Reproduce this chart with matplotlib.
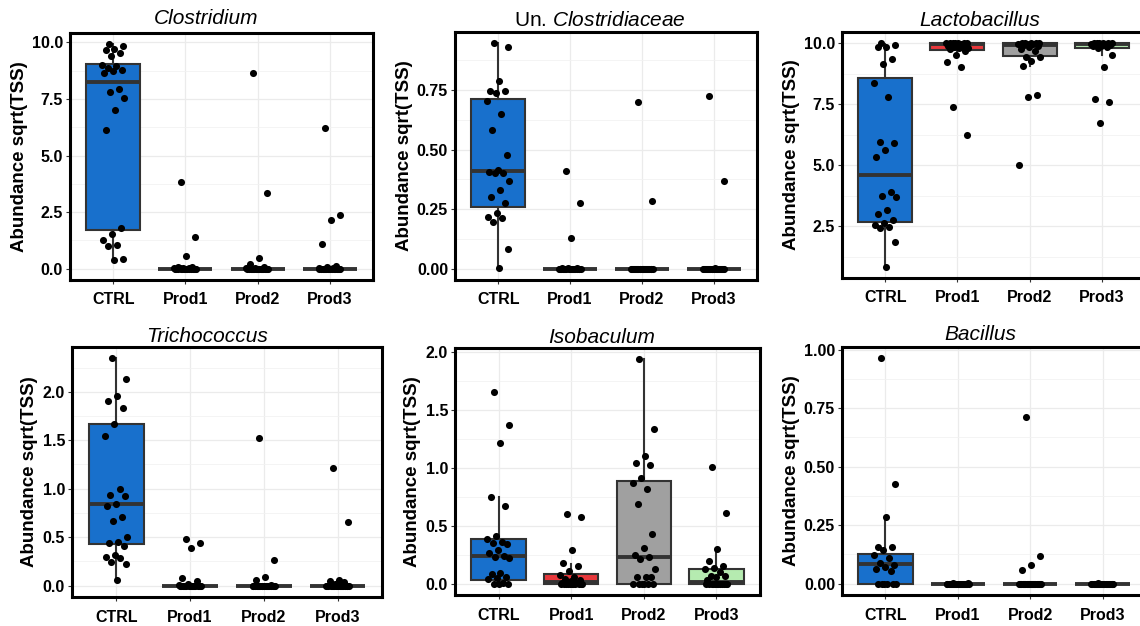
import numpy as np
import matplotlib
matplotlib.use("Agg")
import matplotlib.pyplot as plt
from matplotlib.ticker import FormatStrFormatter, FixedLocator

plt.rcParams["font.family"] = ["Liberation Sans", "DejaVu Sans"]
plt.rcParams["mathtext.fontset"] = "custom"
plt.rcParams["mathtext.rm"] = "Liberation Sans"
plt.rcParams["mathtext.it"] = "Liberation Sans:italic"

groups = ["CTRL", "Prod1", "Prod2", "Prod3"]
box_colors = ["#1870CC", "#E8383C", "#A0A0A0", "#B5EBB0"]

### Clostridium
clos_ctrl = [9.92, 9.85, 9.72, 9.65, 9.55, 9.42, 9.0, 8.95, 8.88, 8.8, 8.72, 8.65,
             7.95, 7.8, 7.55, 7.0, 6.15, 1.82, 1.52, 1.25, 1.07, 1.02, 0.45, 0.39]
clos_p1 = [3.85, 1.4, 0.55, 0.08, 0.06, 0.05, 0.04, 0.03, 0.02, 0.01] + [0.0] * 14
clos_p2 = [8.65, 3.35, 0.48, 0.2, 0.06, 0.04, 0.02] + [0.0] * 17
clos_p3 = [6.2, 2.38, 2.15, 1.1, 0.12, 0.08, 0.05, 0.03] + [0.0] * 16
# q1, median, q3, whisker low, whisker high
clos_box = [(1.72, 8.27, 9.06, 0.39, 9.92), (0, 0, 0, 0, 0), (0, 0, 0, 0, 0), (0, 0, 0, 0, 0)]

### Un. Clostridiaceae
uncl_ctrl = [0.947, 0.933, 0.79, 0.745, 0.745, 0.74, 0.705, 0.652, 0.584, 0.479, 0.415, 0.405,
             0.402, 0.40, 0.37, 0.332, 0.30, 0.277, 0.233, 0.219, 0.214, 0.196, 0.081, 0.003]
uncl_p1 = [0.41, 0.275, 0.13, 0.005, 0.004, 0.003] + [0.0] * 18
uncl_p2 = [0.70, 0.285] + [0.0] * 22
uncl_p3 = [0.725, 0.368, 0.004] + [0.0] * 21
uncl_box = [(0.258, 0.409, 0.712, 0.003, 0.947), (0, 0, 0, 0, 0), (0, 0, 0, 0, 0), (0, 0, 0, 0, 0)]

### Lactobacillus
lact_ctrl = [10.0, 9.93, 9.85, 9.83, 9.37, 9.15, 8.38, 7.78, 5.97, 5.93, 5.63, 5.32,
             3.9, 3.75, 3.68, 3.17, 3.0, 2.74, 2.62, 2.57, 2.47, 2.41, 1.85, 0.84]
lact_p1 = [10.0, 10.0, 10.0, 10.0, 10.0, 10.0, 9.99, 9.98, 9.97, 9.95, 9.92, 9.9,
           9.88, 9.85, 9.82, 9.8, 9.75, 9.7, 9.53, 9.22, 9.02, 7.38, 6.24]
lact_p2 = [10.0, 10.0, 10.0, 10.0, 9.99, 9.98, 9.97, 9.95, 9.92, 9.9, 9.85, 9.75,
           9.66, 9.45, 9.42, 9.28, 9.05, 7.87, 7.8, 5.02]
lact_p3 = [10.0, 10.0, 10.0, 10.0, 10.0, 9.99, 9.98, 9.97, 9.95, 9.93, 9.9, 9.88,
           9.85, 9.8, 9.53, 9.02, 7.73, 7.6, 6.74]
lact_box = [(2.67, 4.62, 8.56, 0.84, 9.95), (9.74, 9.98, 10.0, 9.53, 10.0),
            (9.47, 9.93, 10.0, 9.05, 10.0), (9.82, 9.96, 10.0, 9.53, 10.0)]

### Trichococcus
tric_ctrl = [2.345, 2.13, 1.96, 1.91, 1.83, 1.67, 1.54, 0.993, 0.94, 0.93, 0.84, 0.82,
             0.71, 0.665, 0.503, 0.45, 0.44, 0.407, 0.32, 0.30, 0.28, 0.24, 0.22, 0.062]
tric_p1 = [0.48, 0.44, 0.39, 0.075, 0.05, 0.02, 0.01] + [0.0] * 17
tric_p2 = [1.52, 0.26, 0.09, 0.06, 0.01] + [0.0] * 19
tric_p3 = [1.21, 0.66, 0.06, 0.05, 0.04, 0.02] + [0.0] * 18
tric_box = [(0.431, 0.838, 1.665, 0.062, 2.345), (0, 0, 0, 0, 0), (0, 0, 0, 0, 0), (0, 0, 0, 0, 0)]

### Isobaculum
isob_ctrl = [1.66, 1.37, 1.22, 0.75, 0.67, 0.41, 0.39, 0.36, 0.35, 0.34, 0.29, 0.27,
             0.24, 0.23, 0.22, 0.09, 0.085, 0.06, 0.05, 0.04, 0.01, 0.0, 0.0, 0.0]
isob_p1 = [0.6, 0.58, 0.29, 0.18, 0.15, 0.11, 0.08, 0.06, 0.04, 0.03, 0.02, 0.01, 0.01] + [0.0] * 11
isob_p2 = [1.94, 1.34, 1.10, 1.04, 1.03, 0.91, 0.87, 0.82, 0.69, 0.43, 0.31, 0.25,
           0.23, 0.21, 0.13, 0.057, 0.057, 0.057, 0.0, 0.0, 0.0, 0.0, 0.0, 0.0]
isob_p3 = [1.01, 0.61, 0.30, 0.20, 0.15, 0.14, 0.13, 0.10, 0.07, 0.066, 0.06, 0.03] + [0.0] * 12
isob_box = [(0.031, 0.237, 0.389, 0.0, 0.75), (0.0, 0.012, 0.082, 0.0, 0.17),
            (0.0, 0.229, 0.886, 0.0, 1.94), (0.0, 0.012, 0.124, 0.0, 0.30)]

### Bacillus
baci_ctrl = [0.963, 0.426, 0.284, 0.159, 0.156, 0.142, 0.123, 0.109, 0.088, 0.08, 0.071,
             0.065, 0.054, 0.0, 0.0, 0.0, 0.0, 0.0, 0.0]
baci_p1 = [0.002, 0.001] + [0.0] * 22
baci_p2 = [0.713, 0.12, 0.08, 0.058] + [0.0] * 20
baci_p3 = [0.001] + [0.0] * 23
baci_box = [(0.0, 0.085, 0.125, 0.0, 0.28), (0, 0, 0, 0, 0), (0, 0, 0, 0, 0), (0, 0, 0, 0, 0)]

panels = [
    ("Clostridium", [clos_ctrl, clos_p1, clos_p2, clos_p3], clos_box, [0, 2.5, 5, 7.5, 10], "%.1f"),
    (None, [uncl_ctrl, uncl_p1, uncl_p2, uncl_p3], uncl_box, [0, 0.25, 0.5, 0.75], "%.2f"),
    ("Lactobacillus", [lact_ctrl, lact_p1, lact_p2, lact_p3], lact_box, [2.5, 5, 7.5, 10], "%.1f"),
    ("Trichococcus", [tric_ctrl, tric_p1, tric_p2, tric_p3], tric_box, [0, 0.5, 1, 1.5, 2], "%.1f"),
    ("Isobaculum", [isob_ctrl, isob_p1, isob_p2, isob_p3], isob_box, [0, 0.5, 1, 1.5, 2], "%.1f"),
    ("Bacillus", [baci_ctrl, baci_p1, baci_p2, baci_p3], baci_box, [0, 0.25, 0.5, 0.75, 1.0], "%.2f"),
]

W, H = 1140, 626
# axes frames in pixels: left, right, top, bottom
frames = [(70, 373, 33, 280), (455, 757, 32, 280), (842, 1145, 32, 278),
          (72, 382, 347, 597), (455, 760, 348, 595), (842, 1146, 347, 595)]
title_pos = [(206, 19), (600, 20), (980, 20), (207, 336), (602, 337), (980, 334)]

fig = plt.figure(figsize=(W / 100, H / 100), dpi=100)

def jitter(n):
    return ((np.arange(n) * 0.618034 + 0.31) % 1 - 0.5) * 0.32

for k, (title, series, boxes, yticks, fmt) in enumerate(panels):
    l, r, t, b = frames[k]
    ax = fig.add_axes([l / W, 1 - b / H, (r - l) / W, (b - t) / H])
    pos = np.arange(1, 5)

    stats = []
    for (q1, med, q3, lo, hi) in boxes:
        stats.append(dict(q1=q1, med=med, q3=q3, whislo=lo, whishi=hi, fliers=[]))
    bp = ax.bxp(stats, positions=pos, widths=0.75, patch_artist=True, showfliers=False,
                showcaps=False,
                boxprops=dict(edgecolor="#333333", linewidth=1.5),
                whiskerprops=dict(color="#333333", linewidth=1.5),
                medianprops=dict(color="#333333", linewidth=2.8, solid_capstyle="butt"))
    for patch, col in zip(bp["boxes"], box_colors):
        patch.set_facecolor(col)

    allv = []
    for p, vals in zip(pos, series):
        vals = np.array(vals)
        allv.extend(vals)
        ax.scatter(p + jitter(len(vals)), vals, s=26, color="black", linewidths=0, zorder=4)

    lo, hi = min(allv), max(allv)
    rng = hi - lo
    ax.set_ylim(lo - 0.05 * rng, hi + 0.05 * rng)
    ax.set_xlim(0.4, 4.6)

    ax.set_xticks(pos)
    ax.set_xticklabels(groups)
    ax.set_yticks(yticks)
    ax.yaxis.set_major_formatter(FormatStrFormatter(fmt))
    step = yticks[1] - yticks[0]
    minors = [yticks[0] - step / 2] + [v + step / 2 for v in yticks]
    ax.yaxis.set_minor_locator(FixedLocator(minors))
    ax.grid(True, which="major", color="#EBEBEB", linewidth=0.9)
    ax.grid(True, which="minor", axis="y", color="#F2F2F2", linewidth=0.6)
    ax.set_axisbelow(True)

    ax.tick_params(axis="both", which="major", length=3, width=0.8, color="#333333",
                   labelsize=11.5, labelcolor="black", pad=2)
    ax.tick_params(axis="x", which="major", pad=6)
    ax.tick_params(axis="y", which="minor", length=0)
    for lab in ax.get_xticklabels() + ax.get_yticklabels():
        lab.set_fontweight("bold")
    for sp in ax.spines.values():
        sp.set_linewidth(2.2)
        sp.set_color("black")

    ax.set_ylabel("Abundance sqrt(TSS)", fontsize=13.5, fontweight="bold", labelpad=3)

    tx, ty = title_pos[k]
    if title is None:
        label = r"Un. $\it{Clostridiaceae}$"
        fig.text(tx / W, 1 - ty / H, label, ha="center", va="center", fontsize=15)
    else:
        fig.text(tx / W, 1 - ty / H, title, ha="center", va="center", fontsize=15, style="italic")

fig.savefig("out.png", dpi=100)
